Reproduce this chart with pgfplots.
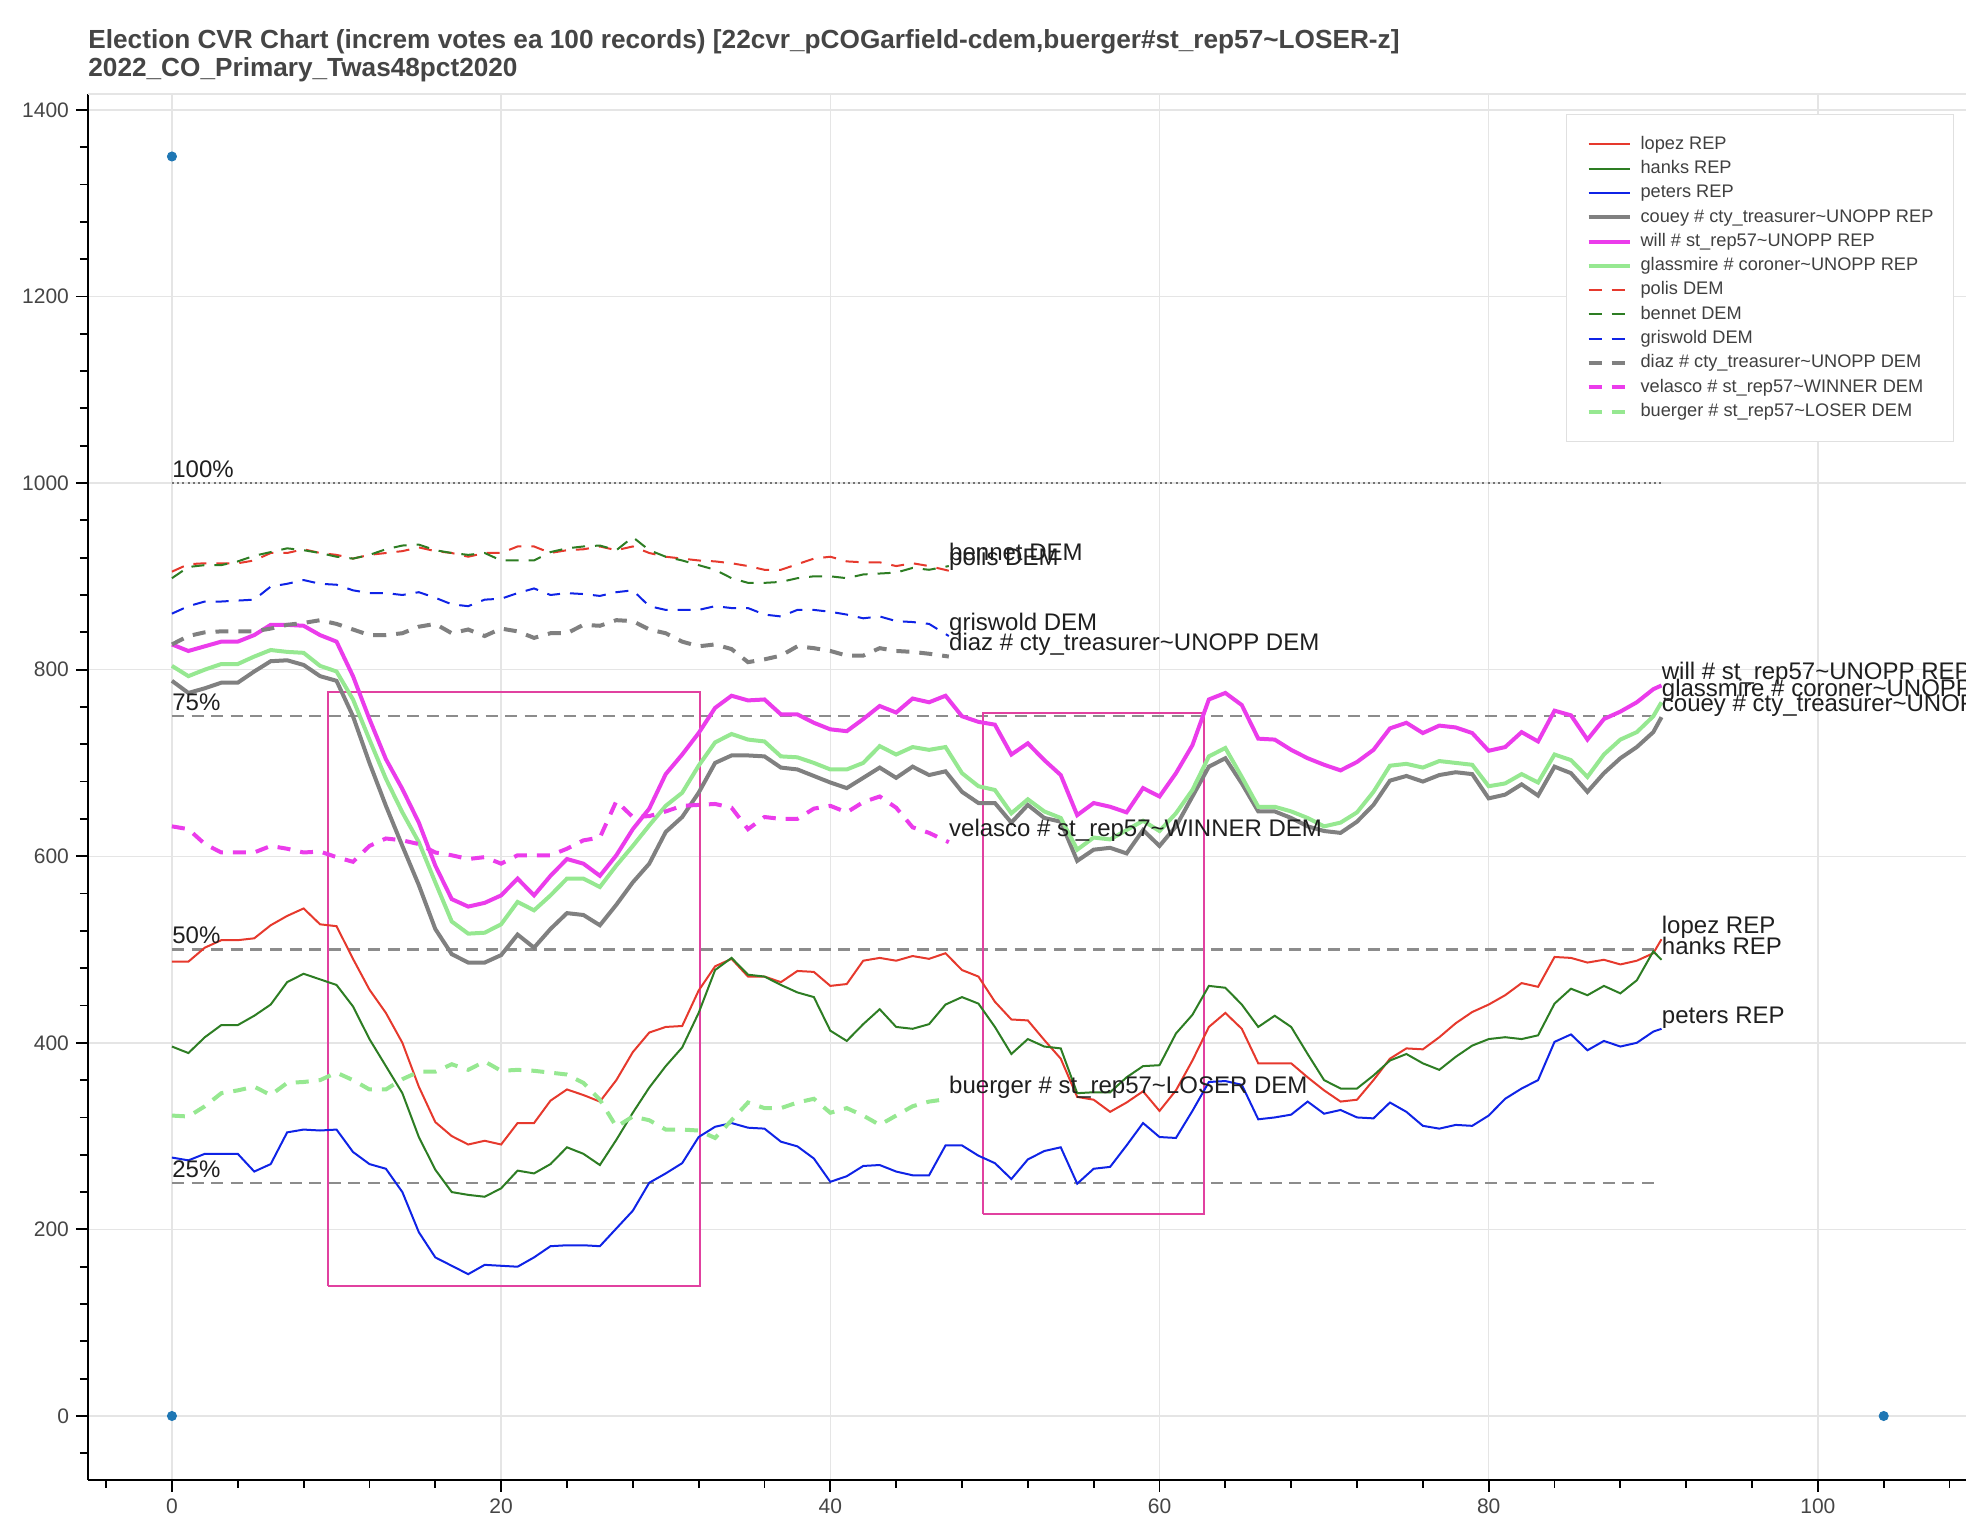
\documentclass[border=0pt]{standalone}
\usepackage{pgfplots}
\pgfplotsset{compat=1.18}
\usepackage{pgfplotstable}
\usepackage{fontspec}
\setmainfont{Liberation Sans}
\definecolor{cred}{RGB}{230,57,45}
\definecolor{cgreen}{RGB}{45,125,35}
\definecolor{cblue}{RGB}{15,35,230}
\definecolor{cgray}{RGB}{128,128,128}
\definecolor{cmag}{RGB}{235,60,235}
\definecolor{clgreen}{RGB}{150,232,145}
\definecolor{cpink}{RGB}{225,65,160}
\definecolor{cdot}{RGB}{31,119,180}

\pgfplotstableread{
x lopez hanks peters couey will glass
0 487 396 277 788 827 804
1 487 389 274 775 820 793
2 502 406 281 780 825 800
3 510 419 281 786 830 806
4 510 419 281 786 830 806
5 512 429 262 798 837 814
6 526 441 270 809 848 821
7 536 465 304 810 848 819
8 544 474 307 805 847 818
9 527 468 306 793 837 804
10 525 462 307 788 830 798
11 490 439 283 750 793 768
12 457 404 270 700 747 725
13 432 375 265 654 704 683
14 400 346 240 611 672 647
15 353 299 197 569 636 615
16 315 264 170 522 590 572
17 300 240 161 495 554 530
18 291 237 152 486 546 517
19 295 235 162 486 550 518
20 291 244 161 494 558 527
21 314 263 160 516 576 551
22 314 260 170 502 558 542
23 338 270 182 522 579 558
24 350 288 183 539 597 576
25 344 281 183 537 592 576
26 337 269 182 526 579 567
27 360 296 201 548 601 590
28 390 325 220 572 629 611
29 411 352 250 592 651 633
30 417 375 260 626 688 654
31 418 395 271 642 709 668
32 456 432 299 668 732 697
33 482 478 310 700 759 722
34 490 491 314 708 772 731
35 471 473 309 708 767 725
36 471 471 308 707 768 723
37 465 462 294 695 752 707
38 477 454 289 693 752 706
39 476 449 276 686 743 700
40 461 413 251 679 736 693
41 463 402 257 673 734 693
42 488 420 268 684 747 700
43 491 436 269 695 761 718
44 488 417 262 684 754 709
45 493 415 258 696 769 717
46 490 420 258 687 765 714
47 496 441 290 691 772 717
48 478 449 290 669 750 689
49 471 442 279 657 744 675
50 444 417 271 657 741 671
51 425 388 254 636 709 646
52 424 404 275 655 721 661
53 403 396 284 641 703 648
54 383 394 288 637 687 641
55 342 346 249 595 644 607
56 339 347 265 607 657 620
57 326 347 267 609 653 618
58 336 363 290 603 647 628
59 348 375 314 628 673 638
60 327 376 299 611 664 627
61 349 410 298 632 689 646
62 381 430 327 664 719 671
63 417 461 358 696 768 707
64 432 459 359 705 775 716
65 415 441 355 678 762 685
66 378 417 318 648 726 653
67 378 429 320 648 725 653
68 378 417 323 641 714 648
69 363 388 337 632 705 641
70 349 360 324 627 698 632
71 337 351 328 625 692 636
72 339 351 320 637 701 647
73 360 365 319 655 714 669
74 383 381 336 681 737 697
75 394 388 326 686 743 699
76 393 378 311 680 732 695
77 406 371 308 687 740 702
78 421 385 312 690 738 700
79 433 397 311 688 732 698
80 441 404 322 662 713 675
81 451 406 340 666 717 678
82 464 404 351 677 733 688
83 460 408 360 665 723 679
84 492 442 401 696 756 709
85 491 458 409 689 751 703
86 486 451 392 669 725 685
87 489 461 402 689 747 709
88 484 453 396 705 755 725
89 488 467 400 717 765 733
90 496 498 412 733 779 750
90.5 511 489 415 749 783 765
}\rep

\pgfplotstableread{
x polis bennet griswold diaz velasco buerger
0 905 898 860 827 632 322
1 913 910 868 836 629 321
2 914 912 873 840 613 332
3 914 912 873 841 604 346
4 914 916 874 841 604 349
5 917 922 875 841 604 353
6 925 926 889 844 611 344
7 925 930 892 848 608 357
8 929 928 896 850 604 358
9 925 925 892 853 605 360
10 923 921 891 849 599 368
11 919 919 885 843 594 360
12 923 923 882 837 611 350
13 925 929 882 837 619 350
14 927 933 880 839 617 361
15 931 934 883 846 613 369
16 927 928 877 849 604 369
17 925 925 870 839 601 377
18 921 923 868 843 597 371
19 925 925 875 836 599 380
20 925 917 876 844 592 370
21 932 917 882 841 601 371
22 932 917 887 834 601 370
23 925 926 880 839 601 368
24 928 930 882 839 608 366
25 929 932 881 848 617 357
26 932 933 879 847 620 339
27 928 928 883 853 659 310
28 932 942 885 852 642 321
29 925 928 868 843 643 317
30 921 921 864 839 648 307
31 919 917 864 830 654 307
32 917 912 864 825 655 306
33 916 907 868 827 656 298
34 914 898 866 822 652 317
35 911 893 866 808 629 336
36 907 893 859 811 642 330
37 907 894 857 815 640 330
38 913 898 864 825 640 336
39 919 900 864 823 651 340
40 921 900 862 820 654 325
41 916 898 859 815 647 330
42 915 902 855 815 658 322
43 915 903 857 823 664 312
44 911 904 852 820 652 322
45 914 909 851 819 631 332
46 911 907 849 817 625 337
47.2 906 911 836 814 615 340
}\dem

\begin{document}
\begin{tikzpicture}
\begin{axis}[
  scale only axis, width=939pt, height=693pt,
  xmin=-5.1, xmax=109, ymin=-68.6, ymax=1417,
  axis x line*=bottom, axis y line*=left,
  axis line style={black, line width=1pt, -},
  xtick={0,20,...,100}, ytick={0,200,...,1400},
  minor xtick={-4,0,...,108}, minor ytick={-40,0,...,1400},
  tick align=outside, major tick length=6pt, minor tick length=4pt,
  tick style={black, line width=0.9pt},
  grid=major, major grid style={color=black!10, line width=0.7pt},
  ticklabel style={font=\fontsize{10.5}{12}\selectfont, text=black!73},
  /pgf/number format/assume math mode=true,
  /pgf/number format/1000 sep={},
  legend cell align=left,
  legend image code/.code={\draw[#1] (0pt,0pt) -- (20.5pt,0pt);},
  legend style={at={(rel axis cs:0.787,0.9856)}, anchor=north west,
    draw=black!12, line width=0.6pt, fill=white,
    font=\fontsize{9.1}{11}\selectfont, text=black!75,
    inner xsep=10pt, inner ysep=10.3pt, row sep=2.95pt, column sep=4.5pt,
    nodes={inner sep=0pt, text height=7pt, text depth=2.2pt}},
]
\coordinate (SW) at (rel axis cs:0,0);
\coordinate (NE) at (rel axis cs:1,1);
\coordinate (NW) at (rel axis cs:0,1);
\draw[black!10, line width=0.7pt] (rel axis cs:0,1) -- (rel axis cs:1,1);

% reference levels
\addplot[black!55, line width=0.9pt, dash pattern=on 1pt off 1.6pt, forget plot] coordinates {(0,1000) (90.5,1000)};
\addplot[black!45, line width=1.2pt, dash pattern=on 6pt off 3.8pt, forget plot] coordinates {(0,750) (90.5,750)};
\addplot[black!45, line width=1.2pt, dash pattern=on 6pt off 3.8pt, forget plot] coordinates {(0,500) (90.5,500)};
\addplot[black!45, line width=1.2pt, dash pattern=on 6pt off 3.8pt, forget plot] coordinates {(0,250) (90.5,250)};

% highlight boxes
\addplot[cpink, line width=1pt, forget plot] coordinates {(9.47,139) (32.1,139) (32.1,776) (9.47,776) (9.47,139)};
\addplot[cpink, line width=1pt, forget plot] coordinates {(49.3,216) (62.7,216) (62.7,754) (49.3,754) (49.3,216)};

% range markers
\addplot[only marks, mark=*, mark size=2.3pt, color=cdot, forget plot] coordinates {(0,1350) (0,0) (104,0)};

\addplot[cred, line width=1pt] table[x=x,y=lopez]{\rep};
\addlegendentry{lopez REP}
\addplot[cgreen, line width=1pt] table[x=x,y=hanks]{\rep};
\addlegendentry{hanks REP}
\addplot[cblue, line width=1pt] table[x=x,y=peters]{\rep};
\addlegendentry{peters REP}
\addplot[cgray, line width=2pt] table[x=x,y=couey]{\rep};
\addlegendentry{couey \# cty\_treasurer\textasciitilde UNOPP REP}
\addplot[cmag, line width=2pt] table[x=x,y=will]{\rep};
\addlegendentry{will \# st\_rep57\textasciitilde UNOPP REP}
\addplot[clgreen, line width=2pt] table[x=x,y=glass]{\rep};
\addlegendentry{glassmire \# coroner\textasciitilde UNOPP REP}
\addplot[cred, line width=1pt, dash pattern=on 6.5pt off 5pt] table[x=x,y=polis]{\dem};
\addlegendentry{polis DEM}
\addplot[cgreen, line width=1pt, dash pattern=on 6.5pt off 5pt] table[x=x,y=bennet]{\dem};
\addlegendentry{bennet DEM}
\addplot[cblue, line width=1pt, dash pattern=on 6.5pt off 5pt] table[x=x,y=griswold]{\dem};
\addlegendentry{griswold DEM}
\addplot[cgray, line width=2pt, dash pattern=on 6.5pt off 5pt] table[x=x,y=diaz]{\dem};
\addlegendentry{diaz \# cty\_treasurer\textasciitilde UNOPP DEM}
\addplot[cmag, line width=2pt, dash pattern=on 6.5pt off 5pt] table[x=x,y=velasco]{\dem};
\addlegendentry{velasco \# st\_rep57\textasciitilde WINNER DEM}
\addplot[clgreen, line width=2pt, dash pattern=on 6.5pt off 5pt] table[x=x,y=buerger]{\dem};
\addlegendentry{buerger \# st\_rep57\textasciitilde LOSER DEM}

\begin{scope}[every node/.style={anchor=south west, inner sep=0pt, text depth=2.6pt, font=\fontsize{12}{14}\selectfont, text=black!88}]
\node at (axis cs:0,1000) {100\%};
\node at (axis cs:0,750) {75\%};
\node at (axis cs:0,500) {50\%};
\node at (axis cs:0,250) {25\%};
\node at (axis cs:47.2,911) {bennet DEM};
\node at (axis cs:47.2,906) {polis DEM};
\node at (axis cs:47.2,836) {griswold DEM};
\node at (axis cs:47.2,814) {diaz \# cty\_treasurer\textasciitilde UNOPP DEM};
\node at (axis cs:47.2,615) {velasco \# st\_rep57\textasciitilde WINNER DEM};
\node at (axis cs:47.2,340) {buerger \# st\_rep57\textasciitilde LOSER DEM};
\node at (axis cs:90.5,783) {will \# st\_rep57\textasciitilde UNOPP REP};
\node at (axis cs:90.5,765) {glassmire \# coroner\textasciitilde UNOPP REP};
\node at (axis cs:90.5,749) {couey \# cty\_treasurer\textasciitilde UNOPP REP};
\node at (axis cs:90.5,511) {lopez REP};
\node at (axis cs:90.5,489) {hanks REP};
\node at (axis cs:90.5,415) {peters REP};
\end{scope}
\end{axis}
\node[anchor=base west, inner sep=0pt, font=\bfseries\fontsize{13.1}{15}\selectfont, text=black!73] at ([yshift=22.8pt]NW) {Election CVR Chart (increm votes ea 100 records) [22cvr\_pCOGarfield-cdem,buerger\#st\_rep57\textasciitilde LOSER-z]};
\node[anchor=base west, inner sep=0pt, font=\bfseries\fontsize{13.1}{15}\selectfont, text=black!73] at ([yshift=8.6pt]NW) {2022\_CO\_Primary\_Twas48pct2020};
\pgfresetboundingbox
\path[use as bounding box] ([xshift=-44pt,yshift=-19.5pt]SW) rectangle ([yshift=47pt]NE);
\end{tikzpicture}
\end{document}
